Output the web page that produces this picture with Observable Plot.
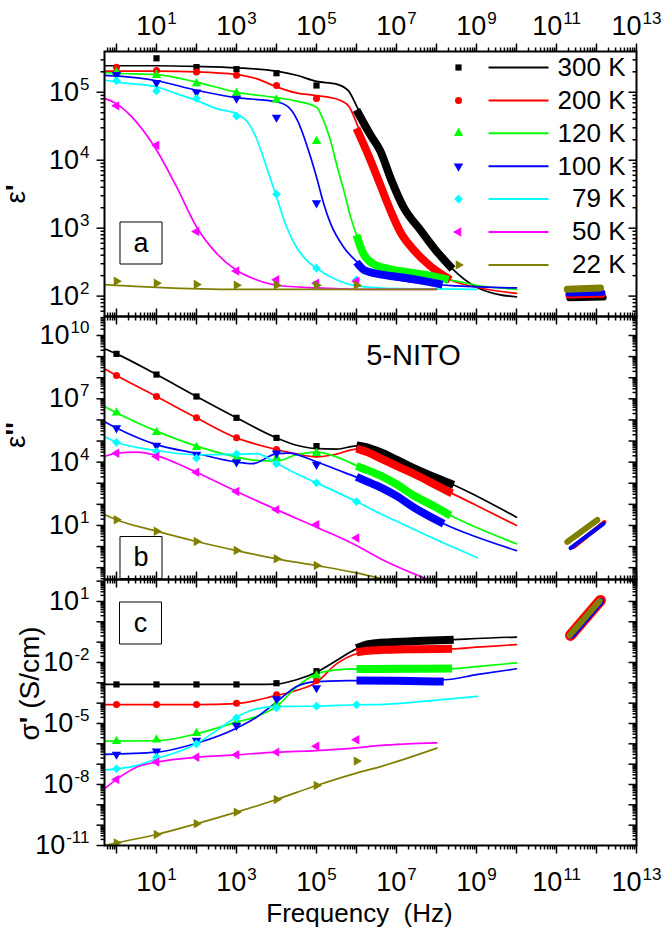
<!DOCTYPE html>
<html><head><meta charset="utf-8">
<script src="https://cdn.jsdelivr.net/npm/d3@7"></script>
<script src="https://cdn.jsdelivr.net/npm/@observablehq/plot@0.6"></script>
<style>
body{margin:0;background:#fff;}
#chart{width:664px;height:928px;position:relative;background:#fff;overflow:hidden;}
#chart svg{display:block;}
</style>
</head><body><div id="chart"></div>
<script>
// ---------------- DATA (log10 values) ----------------
const series = ["300 K","200 K","120 K","100 K","79 K","50 K","22 K"];
const seriesColors = ["#000000","#ff0000","#00ff00","#0000ff","#00ffff","#ff00ff","#808000"];
const markerLogF = [0,1,2,3,4,5,6];           // log10 frequency of the measured points
const xLabelExps = [1,3,5,7,9,11,13];
const aLabelExps = [2,3,4,5];
const bLabelExps = [1,4,7,10];
const cLabelExps = [-11,-8,-5,-2,1];

// panel a: log10 eps'
const epsReMarkers = [
  [null,5.50,5.37,5.34,5.28,5.10,null],
  [5.37,5.32,5.30,5.25,5.10,4.91,null],
  [5.29,5.25,5.13,4.99,4.89,4.28,null],
  [5.26,5.14,5.00,4.91,4.63,3.37,null],
  [5.17,5.02,4.91,4.65,3.50,2.41,2.24],
  [4.80,4.22,2.95,2.37,2.24,2.19,2.22],
  [2.22,2.19,2.17,2.16,2.16,2.16,2.16]
];
const epsReFits = [
  [[-0.3,5.39],[1,5.39],[2,5.38],[3,5.36],[4,5.31],[4.5,5.25],[5,5.16],[5.5,5.12],[5.8,5.02],[6.0,4.80],[6.2,4.55],[6.35,4.37],[6.6,4.12],[6.85,3.74],[7.175,3.31],[7.6,2.97],[8.0,2.67],[8.4,2.40],[9.0,2.13],[9.5,2.03],[10,1.99]],
  [[-0.3,5.31],[1,5.31],[2,5.30],[3,5.26],[3.5,5.20],[4,5.08],[4.5,4.99],[5,4.95],[5.5,4.90],[5.8,4.80],[6.0,4.55],[6.3,4.07],[6.6,3.63],[6.85,3.26],[7.1,2.94],[7.43,2.68],[7.85,2.44],[8.35,2.24],[9.0,2.13],[10,2.04]],
  [[-0.3,5.29],[0,5.28],[1,5.26],[2,5.15],[3,5.00],[4,4.92],[4.5,4.87],[5.0,4.78],[5.2,4.55],[5.35,4.29],[5.52,3.90],[5.68,3.56],[5.85,3.17],[6.02,2.87],[6.35,2.53],[6.85,2.38],[7.4,2.32],[8.0,2.27],[8.5,2.22],[9,2.16],[10,2.10]],
  [[-0.3,5.25],[0,5.24],[1,5.17],[2,5.03],[3,4.92],[4,4.86],[4.3,4.78],[4.52,4.59],[4.85,4.05],[5.02,3.71],[5.18,3.36],[5.35,3.07],[5.68,2.72],[6.02,2.50],[6.43,2.33],[6.85,2.26],[7.5,2.20],[8.5,2.15],[10,2.12]],
  [[-0.3,5.18],[0,5.15],[0.5,5.12],[1,5.08],[1.5,4.98],[2,4.88],[2.5,4.76],[3,4.68],[3.25,4.58],[3.5,4.32],[3.75,3.90],[4,3.46],[4.25,3.02],[4.5,2.72],[4.75,2.53],[5,2.41],[5.5,2.24],[6,2.15],[7,2.11],[9,2.10]],
  [[-0.3,4.91],[0,4.83],[0.5,4.56],[1,4.15],[1.5,3.61],[2,3.02],[2.5,2.63],[3,2.38],[3.5,2.24],[4,2.16],[5,2.12],[6,2.10],[8,2.10]],
  [[-0.3,2.17],[1,2.13],[3,2.10],[5,2.10],[8,2.10]]
];
const epsReBands = [
  [[6.0,4.74],[6.35,4.37],[6.6,4.13],[6.85,3.74],[7.175,3.31],[7.6,2.97],[7.975,2.68],[8.4,2.40]],
  [[6.0,4.47],[6.3,4.07],[6.6,3.63],[6.85,3.26],[7.1,2.94],[7.43,2.68],[7.85,2.44],[8.35,2.24]],
  [[6.0,2.90],[6.15,2.65],[6.4,2.48],[6.8,2.40],[7.4,2.34],[8.0,2.28],[8.3,2.24]],
  [[6.0,2.50],[6.2,2.38],[6.6,2.32],[7.2,2.27],[7.7,2.22],[8.15,2.17]],
  null, null, null
];
const epsReTHz = [
  [[11.32,1.97],[12.18,1.98]],
  [[11.3,2.01],[12.15,2.02]],
  null,
  [[11.3,2.04],[12.15,2.05]],
  null, null,
  [[11.27,2.10],[12.1,2.12]]
];

// panel b: log10 eps''
const epsImMarkers = [
  [9.13,8.15,7.11,6.10,5.15,4.76,null],
  [8.10,7.11,6.10,5.15,4.60,4.39,null],
  [6.34,5.42,4.71,4.20,4.20,4.42,null],
  [5.62,4.79,4.36,4.00,4.42,3.89,null],
  [4.94,4.50,4.19,4.39,3.92,3.02,2.13],
  [4.42,4.27,3.52,2.61,1.75,1.04,0.41],
  [1.27,0.73,0.24,-0.19,-0.58,-0.90,null]
];
const epsImFits = [
  [[-0.3,9.37],[0,9.13],[1,8.15],[2,7.11],[3,6.10],[4,5.15],[4.5,4.80],[5,4.64],[5.5,4.62],[6.0,4.77],[6.3,4.68],[6.6,4.47],[7.0,4.12],[7.43,3.72],[8.0,3.25],[8.43,2.92],[9,2.40],[10,1.39]],
  [[-0.3,8.42],[0,8.10],[1,7.11],[2,6.10],[3,5.15],[4,4.60],[4.5,4.39],[5,4.25],[5.5,4.38],[6.0,4.62],[6.3,4.45],[6.6,4.18],[7.0,3.82],[7.43,3.45],[8.0,2.90],[8.39,2.52],[9,1.95],[10,1.00]],
  [[-0.3,6.64],[0,6.34],[1,5.47],[2,4.76],[3,4.25],[3.5,4.08],[4,4.05],[4.5,4.35],[5,4.47],[5.5,4.25],[6.0,3.84],[6.6,3.36],[7.43,2.42],[8.35,1.47],[9,0.90],[10,0.13]],
  [[-0.3,5.92],[0,5.62],[1,4.83],[2,4.41],[3,4.00],[3.4,3.93],[4,4.40],[4.3,4.43],[5,4.02],[5.5,3.65],[6.0,3.29],[6.6,2.81],[7.43,1.86],[8.18,1.08],[9,0.45],[10,-0.19]],
  [[-0.3,5.21],[0,4.94],[0.5,4.70],[1,4.55],[2,4.35],[3,4.37],[3.5,4.40],[4,3.95],[4.5,3.45],[5,3.02],[6,2.13],[6.6,1.55],[7,1.20],[8,0.32],[9.02,-0.53]],
  [[-0.3,4.27],[0,4.42],[0.5,4.47],[1,4.31],[1.5,3.95],[2,3.52],[3,2.61],[4,1.75],[5,0.92],[6,0.05],[6.6,-0.58],[7.85,-1.61]],
  [[-0.3,1.52],[0,1.27],[1,0.73],[2,0.24],[3,-0.19],[4,-0.58],[5,-0.90],[6,-1.25],[6.85,-1.62],[8,-2.1]]
];
const epsImBands = [
  [[6.0,4.79],[6.3,4.68],[6.6,4.47],[7.0,4.12],[7.43,3.72],[8.0,3.25],[8.43,2.92]],
  [[6.0,4.64],[6.3,4.45],[6.6,4.18],[7.0,3.82],[7.43,3.45],[8.0,2.90],[8.39,2.52]],
  [[6.0,3.82],[6.3,3.60],[6.6,3.36],[7.0,2.95],[7.43,2.42],[8.0,1.85],[8.35,1.47]],
  [[6.0,3.30],[6.3,3.05],[6.6,2.81],[7.0,2.40],[7.43,1.86],[8.18,1.08]],
  null, null, null
];
const epsImTHz = [
  [[11.4,-0.03],[12.18,1.12]],
  [[11.45,0.0],[12.2,1.16]],
  null,
  [[11.35,-0.07],[12.17,1.08]],
  null, null,
  [[11.27,0.22],[12.02,1.26]]
];

// panel c: log10 sigma' (S/cm)
const sigmaMarkers = [
  [-3.08,-3.08,-3.08,-3.08,-3.02,-2.43,null],
  [-4.07,-4.07,-4.07,-4.00,-3.59,-2.89,null],
  [-5.87,-5.80,-5.48,-4.93,-4.03,-2.64,null],
  [-6.52,-6.36,-5.84,-5.10,-3.79,-3.25,null],
  [-7.23,-6.66,-6.00,-4.72,-4.23,-4.15,-4.08],
  [-7.75,-6.90,-6.66,-6.54,-6.41,-6.12,-5.80],
  [-10.87,-10.46,-9.93,-9.36,-8.74,-8.05,-6.85]
];
const sigmaFits = [
  [[-0.3,-3.08],[3,-3.08],[4,-3.06],[4.5,-2.85],[5,-2.48],[5.5,-1.90],[6,-1.33],[6.5,-1.08],[7,-0.98],[8.43,-0.88],[9,-0.82],[10,-0.75]],
  [[-0.3,-4.07],[2,-4.07],[3,-4.02],[4,-3.62],[4.5,-3.38],[5,-2.97],[5.5,-2.07],[6,-1.57],[6.5,-1.42],[7,-1.38],[8.39,-1.33],[9,-1.25],[10,-1.12]],
  [[-0.3,-5.87],[1,-5.85],[2,-5.51],[3,-4.93],[3.5,-4.66],[4,-4.16],[4.5,-3.21],[5,-2.56],[5.5,-2.36],[6,-2.31],[8.39,-2.30],[9,-2.20],[10,-2.02]],
  [[-0.3,-6.52],[1,-6.41],[2,-5.97],[3,-5.23],[3.5,-4.69],[4,-3.95],[4.5,-3.18],[5,-2.94],[6,-2.89],[8.2,-2.85],[9,-2.60],[10,-2.31]],
  [[-0.3,-7.28],[0,-7.23],[0.5,-7.07],[1,-6.74],[2,-6.00],[2.5,-5.35],[3,-4.69],[3.5,-4.28],[4,-4.16],[5,-4.15],[6,-4.08],[6.6,-4.07],[8,-3.85],[9.02,-3.67]],
  [[-0.3,-8.21],[0,-7.75],[0.5,-7.15],[1,-6.90],[2,-6.66],[3,-6.54],[4,-6.41],[5,-6.33],[6,-6.20],[6.6,-6.08],[8.01,-5.95]],
  [[-0.3,-11.0],[0,-10.87],[1,-10.46],[2,-9.93],[3,-9.36],[4,-8.74],[5,-8.05],[6,-7.44],[6.6,-7.12],[8.01,-6.21]]
];
const sigmaBands = [
  [[6.0,-1.30],[6.3,-1.10],[6.85,-1.00],[7.5,-0.95],[8.43,-0.88]],
  [[6.0,-1.50],[6.3,-1.42],[6.85,-1.37],[7.5,-1.35],[8.39,-1.33]],
  [[6.0,-2.32],[7.0,-2.31],[8.39,-2.30]],
  [[6.0,-2.89],[7.0,-2.90],[8.18,-2.94]],
  null, null, null
];
const sigmaTHz = [
  [[11.38,-0.64],[12.1,1.02]],
  [[11.35,-0.67],[12.1,1.05]],
  null,
  [[11.38,-0.65],[12.1,1.0]],
  null, null,
  [[11.33,-0.67],[12.08,1.02]]
];

// ---------------- DRAWING ----------------
const FONT = "'Liberation Sans', Arial, Helvetica, sans-serif";
const LABEL_SIZE = 27;
const P = v => Math.pow(10, v);
const S3 = Math.sqrt(3);
function tri(angle){
  const a = angle*Math.PI/180, c = Math.cos(a), s = Math.sin(a);
  return {draw(ctx, size){
    const y = -Math.sqrt(size/(S3*3));
    const pts = [[0,y*2],[-S3*y,-y],[S3*y,-y]];
    pts.forEach(([px,py],i)=>{const X=px*c-py*s, Y=px*s+py*c; if(i) ctx.lineTo(X,Y); else ctx.moveTo(X,Y);});
    ctx.closePath();
  }};
}
const diamond = {draw(ctx,size){const r=Math.sqrt(size/2); ctx.moveTo(0,-r); ctx.lineTo(r,0); ctx.lineTo(0,r); ctx.lineTo(-r,0); ctx.closePath();}};
const symbols = ["square","circle",tri(0),tri(180),diamond,tri(-90),tri(90)];
const lineShape = {draw(ctx,l){ctx.moveTo(0,0); ctx.lineTo(0,-l);}};

function logTicks(lo, hi){
  const major=[], minor=[];
  for(let k=Math.floor(lo); k<=Math.ceil(hi); k++){
    for(let m=1;m<10;m++){
      const lv = Math.log10(m) + k;
      if(lv < lo-1e-9 || lv > hi+1e-9) continue;
      (m===1?major:minor).push(m*Math.pow(10,k));
    }
  }
  return {major, minor};
}
function tickVec(vals, ch, anchor, rotate, len){
  return Plot.vector(vals, {[ch]: d=>d, frameAnchor: anchor, length: len, rotate, anchor: "start",
    shape: lineShape, stroke: "black", strokeWidth: 1.5, strokeLinecap: "butt"});
}
const XLOG = [-0.3, 13];
const xT = logTicks(XLOG[0], XLOG[1]);

function axisMarks(yLog, yLabels, showTopLabels, showBottomLabels){
  const yT = logTicks(yLog[0], yLog[1]);
  const m = [
    tickVec(xT.major,"x","top",0,8), tickVec(xT.minor,"x","top",0,4),
    tickVec(xT.major,"x","bottom",180,8), tickVec(xT.minor,"x","bottom",180,4),
    tickVec(yT.major,"y","left",270,8), tickVec(yT.minor,"y","left",270,4),
    tickVec(yT.major,"y","right",270,8), tickVec(yT.minor,"y","right",270,4),
    Plot.text(yLabels, {y: d=>P(d), text: d=>"10^"+d, frameAnchor:"left", dx:-15, textAnchor:"end", lineAnchor:"middle", fontSize:LABEL_SIZE, fill:"black"}),
    Plot.frame({stroke:"black", strokeWidth:2})
  ];
  if(showTopLabels) m.push(Plot.text(xLabelExps, {x: d=>P(d), text: d=>"10^"+d, frameAnchor:"top", dy:-25, textAnchor:"middle", lineAnchor:"middle", fontSize:LABEL_SIZE, fill:"black"}));
  if(showBottomLabels) m.push(Plot.text(xLabelExps, {x: d=>P(d), text: d=>"10^"+d, frameAnchor:"bottom", dy:37, textAnchor:"middle", lineAnchor:"middle", fontSize:LABEL_SIZE, fill:"black"}));
  return m;
}

function dataMarks(markers, fits, bands, thz, thzW){
  const m = [];
  fits.forEach((fit,i)=>{ if(fit) m.push(Plot.line(fit, {x:d=>P(d[0]), y:d=>P(d[1]), stroke:seriesColors[i], strokeWidth:1.7, curve:"monotone-x", clip:true})); });
  bands.forEach((b,i)=>{ if(b) m.push(Plot.line(b, {x:d=>P(d[0]), y:d=>P(d[1]), stroke:seriesColors[i], strokeWidth:8, curve:"monotone-x", strokeLinecap:"butt", clip:true})); });
  thz.forEach((b,i)=>{ if(b) m.push(Plot.line(b, {x:d=>P(d[0]), y:d=>P(d[1]), stroke:seriesColors[i], strokeWidth:thzW[i], strokeLinecap:"round", clip:true})); });
  markers.forEach((vals,i)=>{
    const rows = markerLogF.map((f,j)=>({f, v: vals[j]})).filter(d=>d.v!=null);
    m.push(Plot.dot(rows, {x:d=>P(d.f), y:d=>P(d.v), r:3.5, symbol:symbols[i], fill:seriesColors[i], clip:true}));
  });
  return m;
}

function panelBox(letter, dx, dy){
  return [
    Plot.dot([0], {frameAnchor:"top-left", dx, dy, symbol:"square", r:23.7, fill:"white", stroke:"black", strokeWidth:1}),
    Plot.text([letter], {text:d=>d, frameAnchor:"top-left", dx, dy, textAnchor:"middle", lineAnchor:"middle", fontSize:27, fill:"black"})
  ];
}
function yTitle(txt, dx, dy){
  return Plot.text([txt], {text:d=>d, frameAnchor:"left", dx, dy, rotate:-90, textAnchor:"middle", lineAnchor:"middle", fontSize:28, fill:"black"});
}

const baseOpts = {width:664, marginLeft:104, marginRight:28,
  x:{type:"log", domain:[P(XLOG[0]),P(XLOG[1])], axis:null},
  style:{fontFamily:FONT, background:"transparent", overflow:"visible", color:"black"}};

// Panel a
const legendMarks = [];
series.forEach((name,i)=>{
  const dy = 16 + i*32.9;
  legendMarks.push(Plot.dot([0], {frameAnchor:"top-right", dx:-178, dy, r:3.5, symbol:symbols[i], fill:seriesColors[i]}));
  legendMarks.push(Plot.vector([0], {frameAnchor:"top-right", dx:-148, dy, length:60, rotate:90, anchor:"start", shape:lineShape, stroke:seriesColors[i], strokeWidth:2, strokeLinecap:"butt"}));
  legendMarks.push(Plot.text([name], {text:d=>d, frameAnchor:"top-right", dx:-11, dy, textAnchor:"end", lineAnchor:"middle", fontSize:26, fill:"black"}));
});
const plotA = Plot.plot({...baseOpts, height:316, marginTop:51, marginBottom:0,
  y:{type:"log", domain:[P(1.7),P(5.6)], axis:null},
  marks:[
    ...dataMarks(epsReMarkers, epsReFits, epsReBands, epsReTHz, [6,6,0,6,0,0,7]),
    ...legendMarks,
    ...panelBox("a", 36.5, 191.5),
    yTitle("ε'", -88, 10),
    ...axisMarks([1.7,5.6], aLabelExps, true, false)
  ]});

// Panel b
const plotB = Plot.plot({...baseOpts, height:263, marginTop:0, marginBottom:0,
  y:{type:"log", domain:[P(-1.56),P(10.9)], axis:null},
  marks:[
    ...dataMarks(epsImMarkers, epsImFits, epsImBands, epsImTHz, [4,4,0,4,0,0,6]),
    Plot.text(["5-NITO"], {text:d=>d, frameAnchor:"top-left", dx:309, dy:39, textAnchor:"middle", lineAnchor:"middle", fontSize:29, fill:"black"}),
    ...panelBox("b", 36.5, 241),
    yTitle("ε''", -88, -13),
    ...axisMarks([-1.56,10.9], bLabelExps, false, false)
  ]});

// Panel c
const plotC = Plot.plot({...baseOpts, height:349, marginTop:0, marginBottom:83,
  y:{type:"log", domain:[P(-11),P(2.08)], axis:null},
  marks:[
    ...dataMarks(sigmaMarkers, sigmaFits, sigmaBands, sigmaTHz, [8,11,0,7,0,0,6]),
    ...panelBox("c", 36, 43.5),
    yTitle("σ' (S/cm)", -74, -29),
    Plot.text(["Frequency\u00a0 (Hz)"], {text:d=>d, frameAnchor:"bottom", dx:-11, dy:68, textAnchor:"middle", lineAnchor:"middle", fontSize:26, fill:"black"}),
    ...axisMarks([-11,2.08], cLabelExps, false, true)
  ]});

const NS = "http://www.w3.org/2000/svg";
function decorate(svg){
  svg.querySelectorAll("text").forEach(t=>{
    const s = t.textContent;
    const m = /^10\^(-?\d+)$/.exec(s);
    if(m){
      t.textContent = "";
      const a = document.createElementNS(NS,"tspan"); a.textContent = "10";
      const b = document.createElementNS(NS,"tspan"); b.textContent = m[1];
      b.setAttribute("font-size","17"); b.setAttribute("dy","-11"); b.setAttribute("dx","1");
      t.append(a,b);
    } else if(/[εσ]/.test(s)){
      t.textContent = "";
      for(const part of s.split(/('+)/)){
        if(!part) continue;
        const sp = document.createElementNS(NS,"tspan"); sp.textContent = part;
        if(part[0]==="'") sp.setAttribute("font-weight","bold");
        t.append(sp);
      }
    }
  });
  return svg;
}
const chart = document.getElementById("chart");
[plotA, plotB, plotC].forEach(p=>chart.appendChild(decorate(p)));
</script>
</body></html>
